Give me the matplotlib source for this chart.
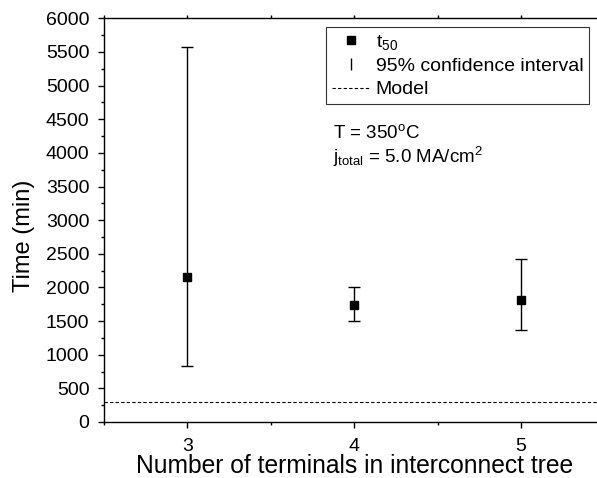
import matplotlib
matplotlib.use("Agg")
import matplotlib.pyplot as plt
from matplotlib.lines import Line2D
from matplotlib.ticker import MultipleLocator

plt.rcParams['font.family'] = ['Liberation Sans', 'DejaVu Sans']
plt.rcParams['mathtext.fontset'] = 'custom'
plt.rcParams['mathtext.rm'] = 'Liberation Sans'
plt.rcParams['mathtext.it'] = 'Liberation Sans:italic'

terminals = [3, 4, 5]
t50 = [2150, 1740, 1820]
ci_low = [832, 1500, 1367]
ci_high = [5568, 2010, 2427]
model_value = 300

fig = plt.figure(figsize=(5.97, 4.78), dpi=100)
ax = fig.add_axes([104/597, 1 - 422/478, 500.5/597, (422 - 18.3)/478])

yerr = [[t - lo for t, lo in zip(t50, ci_low)], [hi - t for t, hi in zip(t50, ci_high)]]
ax.errorbar(terminals, t50, yerr=yerr, fmt='none', ecolor='black', elinewidth=1.0,
            capsize=4.5, capthick=1.0, zorder=2)
ax.plot(terminals, t50, linestyle='none', marker='s', markersize=6, color='black', zorder=3)
ax.axhline(model_value, color='black', lw=0.8, linestyle=(0, (3, 2)), zorder=1)

ax.set_xlim(2.5, 5.5)
ax.set_ylim(0, 6000)
ax.xaxis.set_major_locator(MultipleLocator(1))
ax.xaxis.set_minor_locator(MultipleLocator(0.5))
ax.yaxis.set_major_locator(MultipleLocator(500))
ax.yaxis.set_minor_locator(MultipleLocator(250))
ax.tick_params(which='major', direction='out', length=4.5, width=1, labelsize=14)
ax.tick_params(which='minor', direction='out', length=2.5, width=1)
ax.tick_params(axis='x', which='major', pad=7)
ax.tick_params(axis='y', which='major', pad=6)
ax.tick_params(axis='x', which='both', top=True)
# tiny mirrored ticks on the top axis
for t in ax.xaxis.get_major_ticks() + ax.xaxis.get_minor_ticks():
    t.tick2line.set_markersize(2)
for s in ax.spines.values():
    s.set_linewidth(1.0)

ax.set_xlabel('Number of terminals in interconnect tree', fontsize=17.7)
ax.set_ylabel('Time (min)', fontsize=17)
ax.xaxis.set_label_coords(0.5, -0.08)
ax.yaxis.set_label_coords(-0.138, 0.46)

handles = [
    Line2D([], [], linestyle='none', marker='s', markersize=6, color='black'),
    Line2D([], [], linestyle='none', marker='|', markersize=8, markeredgewidth=1, color='black'),
    Line2D([], [], linestyle=(0, (3, 2)), lw=0.8, color='black'),
]
labels = ['t$_{50}$', '95% confidence interval', 'Model']
leg = ax.legend(handles, labels, loc='upper left', bbox_to_anchor=(326/597, 1 - 26.7/478),
                bbox_transform=fig.transFigure, borderaxespad=0, fontsize=14,
                frameon=True, fancybox=False, edgecolor='black', handlelength=1.95,
                handletextpad=0.3, labelspacing=0.3, borderpad=0.3)
leg.get_frame().set_linewidth(0.8)

fig.text(333/597, 1 - 138/478, 'T = 350$^{\\rm o}$C', fontsize=13.5, va='baseline')
fig.text(333/597, 1 - 163/478, 'j$_{\\rm total}$ = 5.0 MA/cm$^2$', fontsize=13.5, va='baseline')

fig.savefig('out.png', dpi=100)
